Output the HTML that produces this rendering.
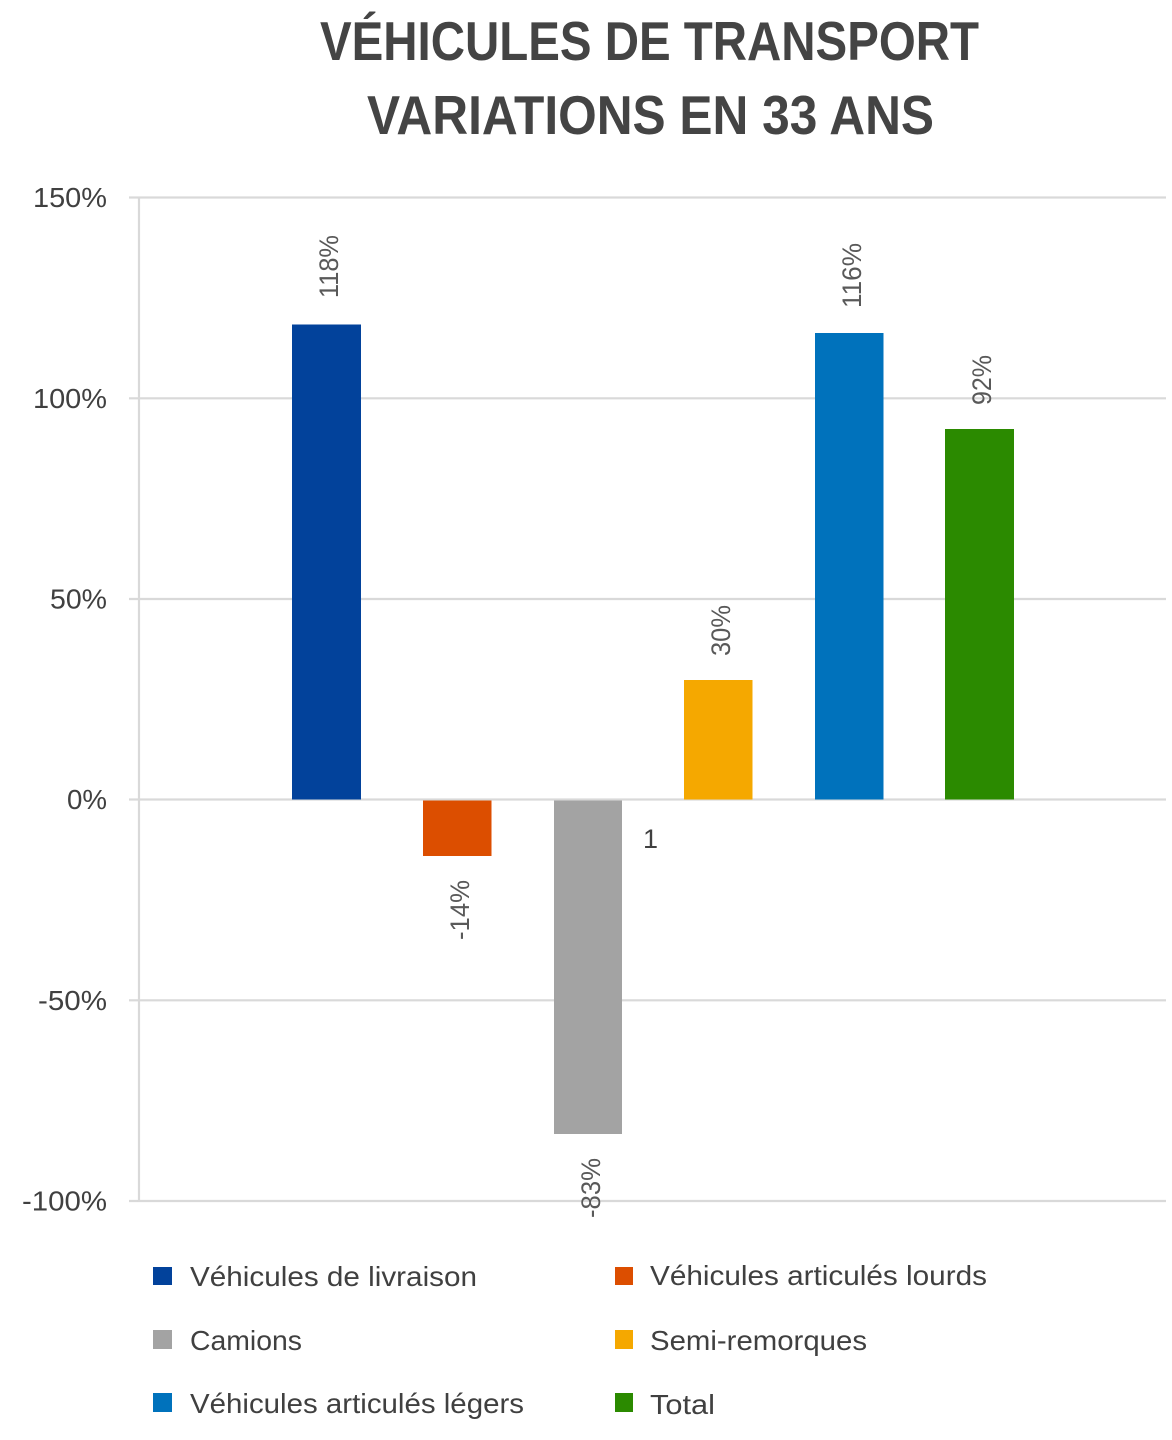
<!DOCTYPE html>
<html>
<head>
<meta charset="utf-8">
<style>
  html, body { margin: 0; padding: 0; background: #ffffff; }
  svg { display: block; }
  text { font-family: "Liberation Sans", "DejaVu Sans", sans-serif; }
</style>
</head>
<body>
<svg width="1172" height="1440" viewBox="0 0 1172 1440" xmlns="http://www.w3.org/2000/svg">
  <rect x="0" y="0" width="1172" height="1440" fill="#ffffff"/>

  <!-- Title -->
  <text x="320" y="60" font-size="55" font-weight="bold" fill="#444444" textLength="659" lengthAdjust="spacingAndGlyphs">VÉHICULES DE TRANSPORT</text>
  <text x="367" y="134" font-size="55" font-weight="bold" fill="#444444" textLength="567" lengthAdjust="spacingAndGlyphs">VARIATIONS EN 33 ANS</text>

  <!-- Gridlines -->
  <g stroke="#d9d9d9" stroke-width="2.2">
    <line x1="129" y1="197.5" x2="1166" y2="197.5"/>
    <line x1="129" y1="398.3" x2="1166" y2="398.3"/>
    <line x1="129" y1="599" x2="1166" y2="599"/>
    <line x1="129" y1="799.5" x2="1166" y2="799.5"/>
    <line x1="129" y1="1000.3" x2="1166" y2="1000.3"/>
    <line x1="129" y1="1201" x2="1166" y2="1201"/>
    <line x1="139" y1="197" x2="139" y2="1202"/>
  </g>

  <!-- Y tick labels -->
  <g font-size="28" fill="#404040">
    <text x="33" y="207" textLength="74" lengthAdjust="spacingAndGlyphs">150%</text>
    <text x="33" y="408" textLength="74" lengthAdjust="spacingAndGlyphs">100%</text>
    <text x="50" y="608.5" textLength="57" lengthAdjust="spacingAndGlyphs">50%</text>
    <text x="67" y="809" textLength="40" lengthAdjust="spacingAndGlyphs">0%</text>
    <text x="38" y="1010" textLength="69" lengthAdjust="spacingAndGlyphs">-50%</text>
    <text x="22" y="1210.5" textLength="85" lengthAdjust="spacingAndGlyphs">-100%</text>
  </g>

  <!-- Bars -->
  <rect x="292" y="324.5" width="69" height="475" fill="#02429b"/>
  <rect x="423" y="800.5" width="68.5" height="55.5" fill="#dc4e00"/>
  <rect x="554" y="800.5" width="68" height="333.5" fill="#a3a3a3"/>
  <rect x="684" y="680" width="68.5" height="119.5" fill="#f5a800"/>
  <rect x="815" y="333" width="68.5" height="466.5" fill="#0072bc"/>
  <rect x="945" y="429" width="69" height="370.5" fill="#2b8a00"/>

  <!-- Data labels (rotated) -->
  <g font-size="27" fill="#595959">
    <text transform="translate(338,298) rotate(-90)" x="0" y="0" textLength="63" lengthAdjust="spacingAndGlyphs">118%</text>
    <text transform="translate(469,940) rotate(-90)" x="0" y="0" textLength="60" lengthAdjust="spacingAndGlyphs">-14%</text>
    <text transform="translate(600,1218) rotate(-90)" x="0" y="0" textLength="60" lengthAdjust="spacingAndGlyphs">-83%</text>
    <text transform="translate(730,656) rotate(-90)" x="0" y="0" textLength="51" lengthAdjust="spacingAndGlyphs">30%</text>
    <text transform="translate(861,308) rotate(-90)" x="0" y="0" textLength="65" lengthAdjust="spacingAndGlyphs">116%</text>
    <text transform="translate(991,405) rotate(-90)" x="0" y="0" textLength="50" lengthAdjust="spacingAndGlyphs">92%</text>
  </g>

  <!-- Category label -->
  <text x="643" y="848" font-size="27" fill="#404040">1</text>

  <!-- Legend -->
  <rect x="153" y="1267" width="19" height="18" fill="#02429b"/>
  <rect x="153" y="1330" width="19" height="19" fill="#a3a3a3"/>
  <rect x="153" y="1393" width="19" height="19" fill="#0072bc"/>
  <rect x="615" y="1267" width="18" height="18" fill="#dc4e00"/>
  <rect x="615" y="1330" width="18" height="19" fill="#f5a800"/>
  <rect x="615" y="1393" width="18" height="19" fill="#2b8a00"/>

  <g font-size="28" fill="#404040">
    <text x="190" y="1286" textLength="287" lengthAdjust="spacingAndGlyphs">Véhicules de livraison</text>
    <text x="190" y="1350" textLength="112" lengthAdjust="spacingAndGlyphs">Camions</text>
    <text x="190" y="1413" textLength="334" lengthAdjust="spacingAndGlyphs">Véhicules articulés légers</text>
    <text x="650" y="1285" textLength="337" lengthAdjust="spacingAndGlyphs">Véhicules articulés lourds</text>
    <text x="650" y="1350" textLength="217" lengthAdjust="spacingAndGlyphs">Semi-remorques</text>
    <text x="650" y="1414" textLength="65" lengthAdjust="spacingAndGlyphs">Total</text>
  </g>
</svg>
</body>
</html>
